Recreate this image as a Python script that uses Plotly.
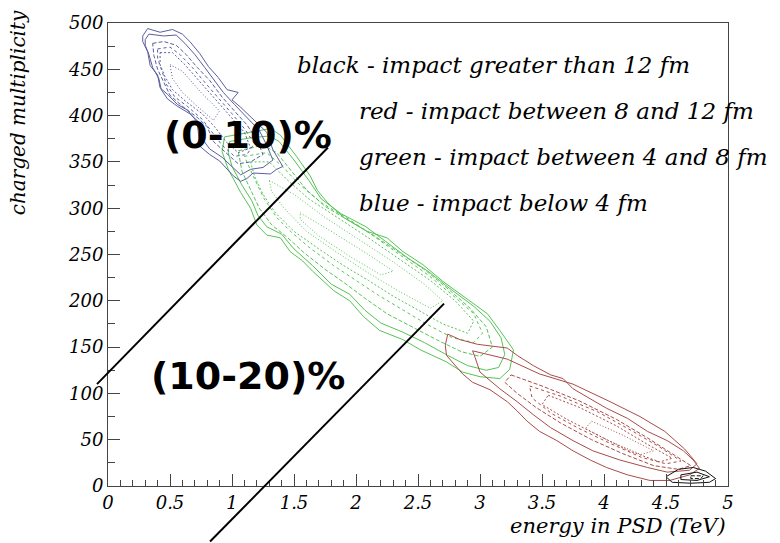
import plotly.graph_objects as go

# Axis ranges
x_range = [0, 5]
y_range = [0, 500]

# Contour rings (energy in PSD [TeV], charged multiplicity), outermost first.
blue_rings = [
    [(0.28, 486), (0.32, 494), (0.42, 490), (0.52, 493), (0.60, 488), (0.66, 480), (0.74, 467),
     (0.81, 453), (0.89, 441), (0.96, 428), (1.05, 425), (1.00, 417), (1.07, 409), (1.17, 396),
     (1.28, 382), (1.33, 363), (1.41, 345), (1.36, 342), (1.31, 337), (1.17, 338), (1.12, 332),
     (1.07, 329), (1.01, 335), (0.90, 351), (0.82, 358), (0.74, 367), (0.73, 380), (0.72, 393),
     (0.64, 406), (0.56, 412), (0.48, 423), (0.42, 430), (0.40, 444), (0.34, 454), (0.32, 469),
     (0.28, 480)],
    [(0.30, 482), (0.33, 488), (0.45, 486), (0.55, 487), (0.62, 478), (0.70, 466), (0.78, 452),
     (0.86, 438), (0.93, 425), (1.02, 412), (1.12, 398), (1.22, 384), (1.28, 368), (1.33, 352),
     (1.25, 344), (1.15, 342), (1.07, 336), (1.00, 345), (0.92, 355), (0.82, 364), (0.76, 375),
     (0.74, 392), (0.66, 402), (0.56, 410), (0.48, 418), (0.43, 428), (0.41, 440), (0.36, 452),
     (0.33, 466), (0.30, 476)],
    [(0.36, 478), (0.45, 480), (0.55, 476), (0.63, 466), (0.72, 452), (0.82, 438), (0.92, 420),
     (1.02, 405), (1.12, 390), (1.20, 374), (1.25, 358), (1.15, 350), (1.05, 348), (0.95, 360),
     (0.85, 372), (0.80, 388), (0.72, 398), (0.60, 410), (0.50, 422), (0.45, 436), (0.40, 450),
     (0.37, 465)],
    [(0.40, 472), (0.50, 474), (0.58, 466), (0.68, 452), (0.78, 436), (0.90, 418), (1.00, 402),
     (1.10, 386), (1.18, 370), (1.12, 358), (1.02, 356), (0.92, 368), (0.84, 382), (0.76, 396),
     (0.64, 410), (0.54, 420), (0.47, 434), (0.43, 450), (0.40, 462)],
    [(0.42, 468), (0.52, 468), (0.62, 455), (0.72, 440), (0.85, 420), (0.98, 400), (1.10, 382),
     (1.15, 365), (1.05, 360), (0.95, 372), (0.86, 388), (0.76, 402), (0.63, 415), (0.52, 428),
     (0.46, 442), (0.42, 455)],
    [(0.50, 455), (0.60, 448), (0.75, 425), (0.90, 405), (0.85, 395), (0.72, 410), (0.60, 425),
     (0.52, 440)],
]

green_rings = [
    [(0.94, 377), (1.15, 382), (1.31, 386), (1.39, 379), (1.52, 356), (1.63, 335), (1.69, 319),
     (1.77, 306), (1.90, 290), (2.09, 275), (2.25, 268), (2.38, 253), (2.54, 239), (2.70, 221),
     (2.92, 200), (3.06, 186), (3.16, 168), (3.27, 147), (3.24, 126), (3.16, 116), (3.00, 118),
     (2.86, 123), (2.73, 134), (2.52, 147), (2.38, 158), (2.19, 168), (2.06, 183), (1.95, 200),
     (1.82, 211), (1.65, 232), (1.57, 243), (1.47, 253), (1.39, 268), (1.28, 271), (1.20, 282),
     (1.15, 300), (1.07, 317), (0.97, 342), (0.92, 361)],
    [(0.98, 372), (1.15, 376), (1.30, 378), (1.38, 372), (1.50, 352), (1.62, 330), (1.72, 310),
     (1.88, 294), (2.08, 280), (2.26, 262), (2.42, 246), (2.58, 232), (2.75, 214), (2.95, 194),
     (3.08, 178), (3.17, 160), (3.20, 142), (3.15, 128), (3.05, 125), (2.90, 130), (2.74, 141),
     (2.55, 155), (2.38, 166), (2.20, 176), (2.07, 190), (1.95, 207), (1.80, 218), (1.65, 238),
     (1.50, 256), (1.40, 272), (1.28, 280), (1.21, 292), (1.16, 308), (1.08, 325), (1.00, 345),
     (0.97, 360)],
    [(1.05, 362), (1.25, 368), (1.36, 360), (1.48, 340), (1.60, 320), (1.75, 302), (1.95, 286),
     (2.15, 270), (2.35, 252), (2.55, 234), (2.75, 212), (2.92, 192), (3.05, 172), (3.10, 150),
     (3.00, 140), (2.85, 145), (2.65, 158), (2.45, 172), (2.25, 186), (2.08, 202), (1.92, 218),
     (1.75, 234), (1.58, 252), (1.45, 268), (1.32, 282), (1.22, 300), (1.15, 320), (1.08, 340)],
    [(1.10, 356), (1.28, 360), (1.40, 346), (1.54, 326), (1.72, 306), (1.92, 290), (2.12, 272),
     (2.35, 250), (2.58, 228), (2.78, 206), (2.95, 186), (3.02, 165), (2.95, 155), (2.78, 160),
     (2.58, 174), (2.38, 190), (2.18, 206), (2.00, 222), (1.82, 238), (1.62, 258), (1.48, 274),
     (1.36, 290), (1.26, 310), (1.18, 332)],
    [(1.15, 350), (1.30, 350), (1.45, 330), (1.62, 310), (1.85, 290), (2.10, 268), (2.35, 245),
     (2.60, 222), (2.80, 200), (2.95, 178), (2.90, 165), (2.70, 175), (2.50, 190), (2.30, 205),
     (2.10, 222), (1.90, 238), (1.70, 256), (1.50, 275), (1.35, 295), (1.25, 315), (1.18, 335)],
    [(1.30, 330), (1.50, 315), (1.75, 290), (2.00, 268), (2.30, 242), (2.55, 218), (2.70, 200),
     (2.60, 192), (2.35, 210), (2.10, 230), (1.85, 252), (1.60, 275), (1.42, 300), (1.32, 318)],
    [(1.55, 295), (1.80, 275), (2.10, 250), (2.30, 232), (2.20, 228), (1.95, 248), (1.70, 270),
     (1.55, 288)],
]

red_rings = [
    [(2.74, 164), (2.84, 158), (2.98, 153), (3.22, 149), (3.30, 141), (3.43, 130), (3.57, 120),
     (3.67, 116), (3.75, 105), (3.89, 94), (4.02, 84), (4.19, 73), (4.35, 59), (4.51, 49),
     (4.64, 38), (4.72, 28), (4.77, 19), (4.69, 12), (4.53, 6), (4.37, 6), (4.19, 12), (4.02, 20),
     (3.89, 28), (3.75, 38), (3.62, 49), (3.48, 59), (3.38, 70), (3.30, 81), (3.22, 91),
     (3.08, 104), (2.94, 112), (2.86, 121), (2.73, 141), (2.72, 152)],
    [(2.94, 146), (3.22, 137), (3.48, 121), (3.75, 110), (4.05, 91), (4.29, 75), (4.49, 59),
     (4.65, 40), (4.75, 24), (4.69, 17), (4.51, 15), (4.35, 20), (4.13, 28), (3.91, 38),
     (3.75, 49), (3.57, 63), (3.43, 77), (3.30, 91), (3.16, 105), (3.00, 123), (2.96, 139)],
    [(3.25, 120), (3.50, 108), (3.80, 92), (4.10, 72), (4.35, 52), (4.55, 35), (4.70, 22),
     (4.60, 18), (4.40, 22), (4.15, 35), (3.90, 50), (3.65, 68), (3.45, 85), (3.30, 100),
     (3.20, 112)],
    [(3.40, 108), (3.65, 97), (3.95, 80), (4.22, 60), (4.45, 42), (4.62, 27), (4.50, 24),
     (4.30, 31), (4.05, 46), (3.80, 62), (3.58, 78), (3.42, 95)],
    [(3.55, 98), (3.80, 85), (4.10, 65), (4.35, 45), (4.55, 30), (4.45, 26), (4.20, 38),
     (3.95, 55), (3.70, 72), (3.50, 88)],
    [(3.90, 70), (4.15, 55), (4.40, 38), (4.30, 34), (4.05, 48), (3.85, 62)],
]

black_rings = [
    [(4.50, 10), (4.60, 18), (4.72, 20), (4.82, 16), (4.90, 8), (4.85, 4), (4.70, 3), (4.55, 4)],
    [(4.62, 12), (4.75, 15), (4.85, 10), (4.75, 6), (4.62, 7)],
    [(4.70, 11), (4.80, 11), (4.78, 8), (4.70, 8)],
]

ring_dashes = ["solid", "solid", "4px,2px", "3px,3px", "2px,2px", "1px,2px", "1px,2px"]

# Centrality cut lines (energy, multiplicity end points)
cut_lines = [
    [(-0.089, 110), (1.774, 365.5)],
    [(0.823, -60), (2.71, 197)],
]

legend_lines = [
    "black - impact greater than 12 fm",
    "red - impact between 8 and 12 fm",
    "green - impact between 4 and 8 fm",
    "blue - impact below 4 fm",
]
centrality_labels = ["(0-10)%", "(10-20)%"]

fig = go.Figure()


def add_rings(rings, color):
    for i, ring in enumerate(rings):
        pts = ring + [ring[0]]
        fig.add_trace(go.Scatter(
            x=[p[0] for p in pts], y=[p[1] for p in pts], mode="lines",
            line=dict(color=color, width=1, dash=ring_dashes[i]),
            hoverinfo="skip", showlegend=False))


add_rings(green_rings, "#55c455")
add_rings(blue_rings, "#5a5f9e")
add_rings(red_rings, "#a84c48")
add_rings(black_rings, "#111111")


def to_dom(v, rng):
    return (v - rng[0]) / (rng[1] - rng[0])


for (p0, p1) in cut_lines:
    fig.add_shape(type="line", xref="x domain", yref="y domain",
                  x0=to_dom(p0[0], x_range), y0=to_dom(p0[1], y_range),
                  x1=to_dom(p1[0], x_range), y1=to_dom(p1[1], y_range),
                  line=dict(color="black", width=2))

serif = "DejaVu Serif"
legend_pos = [(295, 57), (357, 104), (357, 151), (357, 197)]
for txt, (px, py) in zip(legend_lines, legend_pos):
    fig.add_annotation(text=txt, xref="paper", yref="paper",
                       x=(px - 108) / 620, y=1 - (py - 14) / 472,
                       xanchor="left", yanchor="middle", showarrow=False,
                       font=dict(family=serif, size=23, color="black", style="italic"))

for txt, (px, py) in zip(centrality_labels, [(248, 128), (248, 374)]):
    fig.add_annotation(text=txt, xref="paper", yref="paper",
                       x=(px - 108) / 620, y=1 - (py - 14) / 472,
                       xanchor="center", yanchor="middle", showarrow=False,
                       font=dict(family="DejaVu Sans", size=38, color="black", weight="bold"))

# Axis titles
fig.add_annotation(text="charged multiplicity", xref="paper", yref="paper",
                   x=(18 - 108) / 620, y=1 - (106 - 14) / 472, textangle=-90,
                   xanchor="center", yanchor="middle", showarrow=False,
                   font=dict(family=serif, size=20, color="black", style="italic"))
fig.add_annotation(text="energy in PSD (TeV)", xref="paper", yref="paper",
                   x=1.0, y=-(527 - 486) / 472, xanchor="right", yanchor="middle",
                   showarrow=False,
                   font=dict(family=serif, size=21, color="black", style="italic"))

tick_font = dict(family=serif, size=18, color="black", style="italic")
fig.update_xaxes(range=x_range, tickmode="array",
                 tickvals=[0, 0.5, 1, 1.5, 2, 2.5, 3, 3.5, 4, 4.5, 5],
                 ticktext=["0", "0.5", "1", "1.5", "2", "2.5", "3", "3.5", "4", "4.5", "5"],
                 ticks="inside", ticklen=12, tickcolor="#444", tickwidth=1,
                 minor=dict(dtick=0.1, ticks="inside", ticklen=6, tickcolor="#444", tickwidth=1),
                 showline=True, linecolor="#444", linewidth=1, mirror=True,
                 showgrid=False, zeroline=False, tickfont=tick_font)
fig.update_yaxes(range=y_range, tickmode="array",
                 tickvals=list(range(0, 501, 50)),
                 ticks="inside", ticklen=12, tickcolor="#444", tickwidth=1,
                 minor=dict(dtick=25, ticks="inside", ticklen=7, tickcolor="#444", tickwidth=1),
                 showline=True, linecolor="#444", linewidth=1, mirror=True,
                 showgrid=False, zeroline=False, tickfont=tick_font)

fig.update_layout(width=780, height=543, margin=dict(l=108, r=52, t=14, b=57),
                  paper_bgcolor="white", plot_bgcolor="white", showlegend=False)

fig.write_html("out.html")
